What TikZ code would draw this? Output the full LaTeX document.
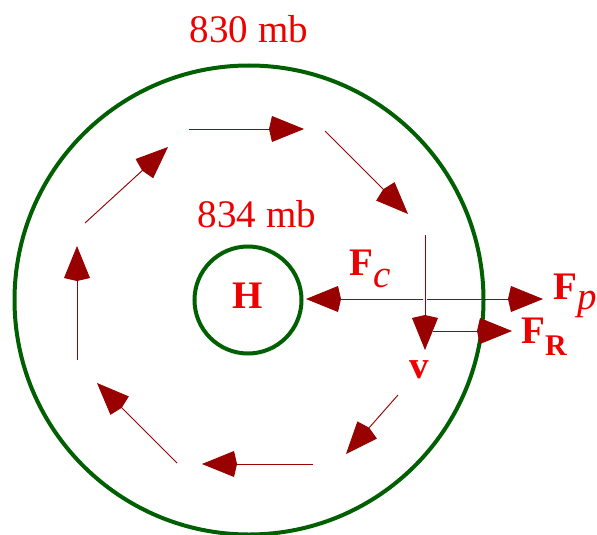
\documentclass[tikz,border=0pt]{standalone}
\usepackage{fontspec}
\setmainfont{Liberation Serif}
\usetikzlibrary{arrows.meta}
\definecolor{arr}{RGB}{153,0,0}
\definecolor{ring}{RGB}{0,95,0}
\definecolor{txt}{RGB}{238,0,0}
\tikzset{
  flow/.style={draw=arr, line width=0.9pt, -{Kite[length=35pt,width=26pt,inset=3pt]}, fill=arr},
  ringc/.style={circle, draw=ring, line width=4pt, inner sep=0pt},
  lab/.style={text=txt, inner sep=0pt, font=\fontsize{39}{39}\selectfont},
}
\begin{document}
\begin{tikzpicture}[x=1pt,y=-1pt]
\useasboundingbox (0,0) rectangle (597,535);
% circles
\node[ringc, minimum size=469pt] (outer) at (249,300) {};
\node[ringc, minimum size=107pt] (inner) at (248,300) {};
% labels
\node[lab, anchor=base] (p830) at (249,43) {830 mb};
\node[lab, anchor=base] (p834) at (257,227) {834 mb};
\node[lab, anchor=base] (H) at (248,308) {\textbf{H}};
\node[lab, anchor=base west] (Fc) at (349,275) {\textbf{F}\raisebox{-12pt}{\textit{c}}};
\node[lab, anchor=base west] (Fp) at (553,299) {\textbf{F}\raisebox{-10pt}{\textit{p}}};
\node[lab, anchor=base west] (FR) at (521,343) {\textbf{F}\raisebox{-12pt}{\fontsize{30}{30}\selectfont\textbf{R}}};
\node[lab, anchor=base] (v) at (419,378) {\textbf{v}};
% circulation arrows
\coordinate (a1s) at (189,129); \coordinate (a1e) at (304,129);
\coordinate (a2s) at (325,131); \coordinate (a2e) at (408,214);
\coordinate (a3s) at (425,235); \coordinate (a3e) at (425,350);
\coordinate (a4s) at (398,395); \coordinate (a4e) at (346,454);
\coordinate (a5s) at (313,464); \coordinate (a5e) at (202,464);
\coordinate (a6s) at (177,463); \coordinate (a6e) at (97,383);
\coordinate (a7s) at (77,360);  \coordinate (a7e) at (77,246);
\coordinate (a8s) at (85,223);  \coordinate (a8e) at (168,147);
\draw[flow] (a1s) -- (a1e);
\draw[flow] (a2s) -- (a2e);
\draw[flow] (a3s) -- (a3e);
\draw[flow] (a4s) -- (a4e);
\draw[flow] (a5s) -- (a5e);
\draw[flow] (a6s) -- (a6e);
\draw[flow] (a7s) -- (a7e);
\draw[flow] (a8s) -- (a8e);
% forces
\coordinate (fcs) at (423,299); \coordinate (fce) at (306,299);
\coordinate (fps) at (427,299); \coordinate (fpe) at (543,299);
\coordinate (frs) at (433,331); \coordinate (fre) at (512,331);
\draw[flow] (fcs) -- (fce);
\draw[flow] (fps) -- (fpe);
\draw[flow] (frs) -- (fre);
\end{tikzpicture}
\end{document}
